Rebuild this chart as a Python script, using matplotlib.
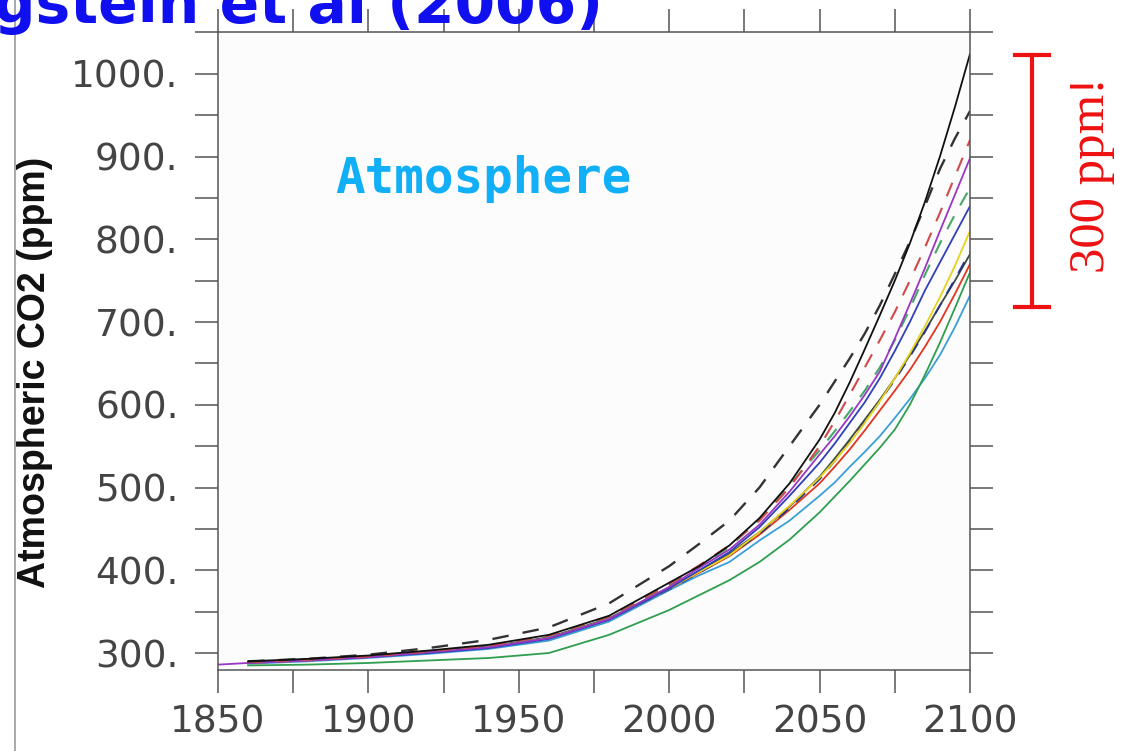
import numpy as np
import matplotlib.pyplot as plt
from matplotlib.lines import Line2D
from matplotlib.transforms import blended_transform_factory

# years
years = [1860, 1880, 1900, 1920, 1940, 1960, 1980, 2000, 2010, 2020, 2030, 2040,
         2050, 2055, 2060, 2065, 2070, 2075, 2080, 2085, 2090, 2095, 2100]
years_purple = [1850] + years

# atmospheric CO2 (ppm) for each model run
black_solid = [290, 293, 297, 303, 310, 322, 345, 385, 405, 430, 463, 505,
               558, 590, 627, 667, 708, 750, 795, 845, 900, 960, 1024]
black_dashed = [290, 293, 298, 306, 316, 331, 360, 405, 432, 460, 500, 550,
                600, 628, 656, 686, 720, 758, 797, 840, 885, 922, 955]
red_dashed = [289, 292, 296, 302, 309, 321, 344, 383, 406, 430, 460, 500,
              550, 580, 612, 645, 678, 712, 750, 790, 832, 876, 920]
purple = [286, 288, 291, 295, 301, 307, 318, 341, 380, 403, 425, 455, 495,
          540, 562, 586, 612, 640, 680, 722, 765, 810, 854, 898]
green_dashed = [289, 292, 296, 302, 308, 319, 343, 382, 405, 428, 462, 503,
                545, 568, 592, 617, 645, 678, 716, 757, 795, 830, 862]
blue = [288, 291, 295, 300, 306, 317, 340, 378, 400, 422, 452, 490,
        530, 553, 578, 603, 632, 665, 700, 738, 772, 806, 840]
yellow = [288, 291, 296, 301, 307, 318, 341, 378, 398, 418, 446, 478,
          512, 532, 554, 578, 604, 632, 662, 695, 730, 768, 810]
navy_dashed = [289, 292, 296, 301, 307, 318, 341, 377, 397, 418, 444, 475,
               510, 532, 555, 579, 604, 630, 658, 688, 720, 752, 785]
dark_solid = [289, 292, 296, 302, 308, 319, 342, 379, 399, 420, 446, 477,
              513, 535, 558, 582, 606, 632, 660, 689, 720, 750, 782]
red_solid = [288, 291, 295, 301, 307, 318, 341, 378, 397, 417, 443, 473,
             505, 525, 546, 569, 593, 617, 642, 670, 700, 734, 770]
light_blue = [287, 290, 294, 299, 305, 315, 338, 376, 394, 410, 436, 460,
              490, 506, 525, 543, 562, 584, 607, 632, 660, 694, 732]
green_low = [285, 286, 288, 291, 294, 300, 322, 352, 370, 388, 410, 437,
             470, 489, 508, 528, 548, 570, 600, 636, 675, 717, 760]

yticks_major = [300, 400, 500, 600, 700, 800, 900, 1000]
yticks_minor = [350, 450, 550, 650, 750, 850, 950, 1050]
ytick_labels = ['300.', '400.', '500.', '600.', '700.', '800.', '900.', '1000.']
xticks_major = [1850, 1900, 1950, 2000, 2050, 2100]
xticks_minor = [1875, 1925, 1975, 2025, 2075]

fig = plt.figure(figsize=(11.31, 7.51), dpi=100)
ax = fig.add_axes([0.19275, 0.10786, 0.6649, 0.84953])
ax.set_facecolor('#fcfcfc')

dash = (0, (7, 6))
ax.plot(years, light_blue, color='#3a9fd6', lw=1.3)
ax.plot(years, green_low, color='#2f9e4f', lw=1.3)
ax.plot(years, red_solid, color='#e2361f', lw=1.3)
ax.plot(years, dark_solid, color='#3b4a3b', lw=1.3)
ax.plot(years, navy_dashed, color='#25338a', lw=1.3, ls=dash)
ax.plot(years, yellow, color='#e6d21c', lw=1.3)
ax.plot(years, blue, color='#3040b8', lw=1.3)
ax.plot(years, green_dashed, color='#45a868', lw=1.5, ls=dash)
ax.plot(years_purple, purple, color='#9a36c4', lw=1.3)
ax.plot(years, red_dashed, color='#cf4a4a', lw=1.5, ls=dash)
ax.plot(years, black_dashed, color='#333333', lw=1.7, ls=dash)
ax.plot(years, black_solid, color='#111111', lw=1.3)

ax.set_xlim(1850, 2100)
ax.set_ylim(279.5, 1050.5)

ax.set_yticks(yticks_major)
ax.set_yticklabels(ytick_labels)
ax.set_yticks(yticks_minor, minor=True)
ax.set_xticks(xticks_major)
ax.set_xticks(xticks_minor, minor=True)

for s in ax.spines.values():
    s.set_color('#555555')
    s.set_linewidth(1.1)
ax.tick_params(which='both', direction='out', length=16.5, width=1.1, color='#555555',
               top=True, right=True)
ax.tick_params(axis='y', labelsize=27, labelcolor='#444444', pad=12)
ax.tick_params(axis='x', labelsize=27, labelcolor='#444444', pad=8)

fig.text(35 / 1131, 1 - 372 / 751, 'Atmospheric CO2 (ppm)', rotation=90,
         ha='center', va='center', fontsize=27, fontweight='bold',
         family=['Liberation Sans Narrow', 'Liberation Sans'], color='#111111')

ax.text(1889, 856, 'Atmosphere', ha='left', va='baseline', fontsize=35.5,
        fontweight='bold', family='DejaVu Sans Mono', color='#10aff7')

# red bracket outside the plot: spans ~300 ppm at 2100
tr = blended_transform_factory(ax.transAxes, ax.transData)
bar_x = (1032 - 218) / 752
cap = 0.0226
bar_top, bar_bot = 1023, 718
ax.plot([bar_x, bar_x], [bar_bot, bar_top], color='#ee1111', lw=3, transform=tr, clip_on=False)
ax.plot([bar_x - cap, bar_x + cap], [bar_top, bar_top], color='#ee1111', lw=3, transform=tr, clip_on=False)
ax.plot([bar_x - cap, bar_x + cap], [bar_bot, bar_bot], color='#ee1111', lw=3, transform=tr, clip_on=False)
ax.text((1092 - 218) / 752, 878, '300 ppm!', rotation=90, ha='center', va='center',
        fontsize=36.5, family='Liberation Serif', color='#ee1111', transform=tr)

# slide title, cut by the top edge
fig.text(603 / 1131, 1 - 23 / 751, 'Friedlingstein et al (2006)', ha='right', va='baseline',
         fontsize=42, fontweight='bold', color='#0f0ff0')

fig.add_artist(Line2D([15 / 1131, 15 / 1131], [0, 1], transform=fig.transFigure,
                      color='#9a9a9a', lw=1.2))

plt.savefig('out.png', dpi=100)
